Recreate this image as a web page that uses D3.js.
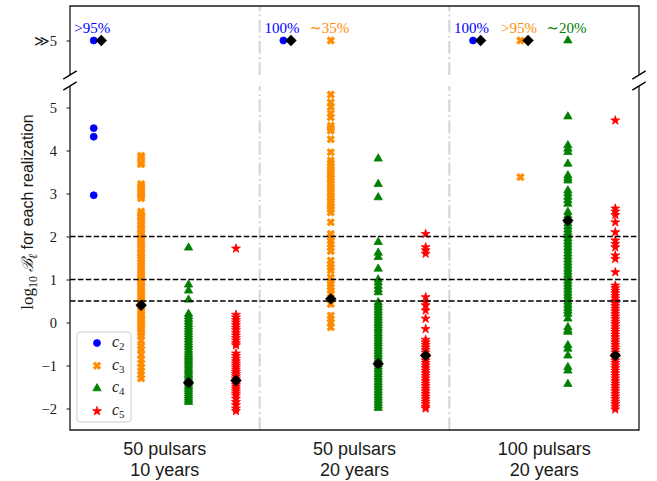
<!DOCTYPE html>
<html>
<head>
<meta charset="utf-8">
<script src="https://cdn.jsdelivr.net/npm/d3@7"></script>
<style>
  body { margin: 0; background: #fff; }
  svg { display: block; }
</style>
</head>
<body>
<script>
// Array configurations along the x axis
const groupLines = [["50 pulsars", "10 years"], ["50 pulsars", "20 years"], ["100 pulsars", "20 years"]];
const seriesNames = ["2", "3", "4", "5"];          // subscripts of c_l
const seriesColors = ["#0000ff", "#ff8c00", "#008000", "#ff0000"];
const yTicks = [-2, -1, 0, 1, 2, 3, 4, 5];
const farTick = "≫5";
const thresholds = [0.5, 1, 2];

// log10 Bayes factor of each realization that stays below the axis break, per array configuration
const c2Vals = [[4.52, 4.32, 2.96], [], []];
const c3Vals = [
  [3.88, 3.84, 3.72, 3.68, 3.22, 3.17, 3.12, 3.06, 3.0, 2.94, 2.89, 2.58, 2.53, 2.47, 2.41, 2.35, 2.28, 2.22, 2.16, 2.1,
   2.04, 1.98, 1.92, 1.85, 1.79, 1.72, 1.66, 1.6, 1.53, 1.47, 1.4, 1.34, 1.27, 1.2, 1.14, 1.08, 1.02, 0.96, 0.9, 0.84,
   0.78, 0.72, 0.66, 0.6, 0.54, 0.48, 0.43, 0.37, 0.31, 0.25, 0.19, 0.13, 0.07, 0.01, -0.05, -0.11, -0.17, -0.24, -0.3,
   -0.42, -0.55, -0.62, -0.75, -0.86, -0.95, -1.05, -1.13, -1.22, -1.3],
  [5.3, 5.12, 5.01, 4.86, 4.77, 4.58, 4.52, 4.46, 4.26, 3.96, 3.77, 3.7, 3.63, 3.56, 3.5, 3.43, 3.36, 3.3, 3.23, 3.16,
   3.1, 3.03, 2.96, 2.9, 2.83, 2.76, 2.7, 2.63, 2.56, 2.33, 2.06, 1.98, 1.9, 1.82, 1.74, 1.66, 1.44, 1.36, 1.28, 1.21,
   1.05, 0.97, 0.9, 0.82, 0.75, 0.67, 0.43, 0.16, 0.08, 0.0, -0.11],
  [3.38]
];
const c4Vals = [
  [1.74, 0.88, 0.74, 0.53, 0.2, 0.14, 0.08, 0.02, -0.04, -0.1, -0.16, -0.22, -0.28, -0.34, -0.4, -0.46, -0.52, -0.58,
   -0.64, -0.7, -0.75, -0.8, -0.85, -0.9, -0.95, -1.0, -1.05, -1.1, -1.15, -1.2, -1.25, -1.3, -1.35, -1.4, -1.45, -1.5,
   -1.55, -1.6, -1.65, -1.7, -1.75, -1.8, -1.85],
  [3.81, 3.22, 2.91, 1.87, 1.62, 1.52, 1.25, 1.0, 0.93, 0.85, 0.77, 0.7, 0.47, 0.41, 0.35, 0.29, 0.23, 0.17, 0.11, 0.05,
   -0.01, -0.07, -0.13, -0.19, -0.25, -0.31, -0.37, -0.43, -0.49, -0.55, -0.61, -0.67, -0.73, -0.79, -0.85, -0.91, -0.97,
   -1.03, -1.09, -1.15, -1.21, -1.27, -1.33, -1.39, -1.45, -1.51, -1.57, -1.63, -1.69, -1.75, -1.81, -1.87, -1.93, -1.99],
  [4.79, 4.12, 4.04, 3.96, 3.69, 3.42, 3.36, 3.3, 3.07, 3.0, 2.92, 2.84, 2.76, 2.57, 2.49, 2.37, 2.3, 2.23, 2.16, 2.09,
   2.02, 1.95, 1.88, 1.81, 1.74, 1.67, 1.6, 1.53, 1.46, 1.39, 1.32, 1.25, 1.18, 1.11, 1.04, 0.97, 0.9, 0.83, 0.76, 0.69,
   0.62, 0.55, 0.48, 0.41, 0.34, 0.27, 0.2, 0.09, -0.11, -0.18, -0.22, -0.53, -0.61, -0.77, -1.04, -1.12, -1.43]
];
const c5Vals = [
  [1.72, 0.18, 0.12, 0.06, 0.0, -0.06, -0.12, -0.18, -0.24, -0.3, -0.36, -0.42, -0.48, -0.53, -0.72, -0.78, -0.84, -0.9,
   -0.95, -1.0, -1.05, -1.1, -1.15, -1.2, -1.25, -1.3, -1.35, -1.4, -1.45, -1.5, -1.55, -1.6, -1.65, -1.7, -1.77, -1.85,
   -1.92, -2.0, -2.06],
  [2.06, 1.75, 1.68, 1.6, 0.59, 0.47, 0.4, 0.28, 0.09, -0.15, -0.4, -0.46, -0.52, -0.58, -0.64, -0.7, -0.76, -0.82, -0.88,
   -0.94, -1.0, -1.06, -1.12, -1.18, -1.24, -1.3, -1.36, -1.42, -1.48, -1.54, -1.6, -1.66, -1.72, -1.78, -1.84, -1.9,
   -1.96, -2.0],
  [4.7, 2.65, 2.58, 2.5, 2.33, 2.1, 1.91, 1.83, 1.75, 1.56, 1.48, 1.17, 0.86, 0.8, 0.74, 0.68, 0.62, 0.56, 0.5, 0.44,
   0.38, 0.32, 0.26, 0.2, 0.14, 0.08, 0.02, -0.04, -0.1, -0.16, -0.22, -0.28, -0.34, -0.4, -0.46, -0.52, -0.58, -0.64,
   -0.7, -0.76, -0.82, -0.88, -0.94, -1.0, -1.06, -1.12, -1.18, -1.24, -1.3, -1.36, -1.42, -1.48, -1.54, -1.6, -1.66,
   -1.72, -1.78, -1.84, -1.9, -1.96, -2.02]
];

// Medians per configuration (Infinity = in the ≫5 strip)
const c2Median = [Infinity, Infinity, Infinity];
const c3Median = [0.4, 0.55, Infinity];
const c4Median = [-1.4, -0.96, 2.37];
const c5Median = [-1.35, -0.77, -0.77];

// Share of realizations with log10 B ≫ 5 (null = none)
const c2Share = [">95%", "100%", "100%"];
const c3Share = [null, "∼35%", ">95%"];
const c4Share = [null, null, "∼20%"];
const c5Share = [null, null, null];

const series = seriesNames.map((sub, k) => ({
  sub,
  color: seriesColors[k],
  vals: [c2Vals, c3Vals, c4Vals, c5Vals][k],
  med: [c2Median, c3Median, c4Median, c5Median][k],
  share: [c2Share, c3Share, c4Share, c5Share][k]
}));

const W = 657, H = 481;
const L = 70, R = 639;
const mainTop = 86, mainBot = 430, topTop = 6, topBot = 75;
const serif = "'Liberation Serif', 'DejaVu Serif', serif";
const sans = "'Liberation Sans', Arial, sans-serif";
const ink = "#1a1a1a";

const x = d3.scaleLinear().domain([-0.5, 2.5]).range([L, R]);
const y = d3.scaleLinear().domain([-2.5, 5.5]).range([mainBot, mainTop]);
const yFar = d3.scalePoint().domain([farTick]).range([topBot, topTop]).padding(0.5);
const slot = [-0.375, -0.125, 0.125, 0.375];
const medShift = 0.04;

// marker shapes
const shapes = [
  d3.symbol().type(d3.symbolCircle).size(38)(),
  d3.symbol().type(d3.symbolCross).size(36)(),     // drawn rotated 45° -> filled X
  d3.symbol().type(d3.symbolTriangle).size(30)(),
  d3.symbol().type(d3.symbolStar).size(25)()
];
const rot = [0, 45, 0, 0];
const diamond = "M0,-5.7L5.7,0L0,5.7L-5.7,0Z";

const svg = d3.select("body").append("svg").attr("width", W).attr("height", H);

// separators between configurations (dash-dot)
const seps = [0.5, 1.5];
[[topBot, topTop], [mainBot, mainTop]].forEach(([b, t]) => {
  svg.append("g").selectAll("line").data(seps).join("line")
    .attr("x1", d => x(d)).attr("x2", d => x(d))
    .attr("y1", b).attr("y2", t)
    .attr("stroke", "#d3d3d3").attr("stroke-width", 2)
    .attr("stroke-dasharray", "12.8,3.2,2,3.2");
});

function drawMarker(g, k, px, py) {
  g.append("path").attr("d", shapes[k])
    .attr("transform", `translate(${px},${py}) rotate(${rot[k]})`)
    .attr("fill", series[k].color).attr("stroke", series[k].color).attr("stroke-width", 0.8);
}

// realizations in the main panel
const pts = svg.append("g");
series.forEach((s, k) => {
  s.vals.forEach((arr, gi) => {
    arr.forEach(v => drawMarker(pts, k, x(gi + slot[k]), y(v)));
  });
});

// Bayes-factor thresholds
svg.append("g").selectAll("line").data(thresholds).join("line")
  .attr("x1", L).attr("x2", R)
  .attr("y1", d => y(d)).attr("y2", d => y(d))
  .attr("stroke", "#000").attr("stroke-width", 1.5)
  .attr("stroke-dasharray", "5.5,2.4");

// ≫5 strip: markers, shares
const far = svg.append("g");
series.forEach((s, k) => {
  s.share.forEach((lab, gi) => {
    if (lab === null) return;
    const cx = x(gi + slot[k]);
    drawMarker(far, k, cx, yFar(farTick));
    far.append("text").attr("x", cx - 1.5).attr("y", 33)
      .attr("text-anchor", "middle").attr("font-family", serif).attr("font-size", 15)
      .attr("fill", s.color).text(lab);
  });
});

// medians
const meds = svg.append("g");
series.forEach((s, k) => {
  s.med.forEach((m, gi) => {
    const top = !isFinite(m);
    const px = x(gi + slot[k] + (top ? medShift : 0));
    const py = top ? yFar(farTick) : y(m);
    meds.append("path").attr("d", diamond)
      .attr("transform", `translate(${px},${py})`).attr("fill", "#000");
  });
});

// spines
svg.append("path")
  .attr("d", `M${L},${mainTop}V${mainBot}H${R}V${mainTop}`)
  .attr("fill", "none").attr("stroke", ink).attr("stroke-width", 1.3);
svg.append("path")
  .attr("d", `M${L},${topBot}V${topTop}H${R}V${topBot}`)
  .attr("fill", "none").attr("stroke", ink).attr("stroke-width", 1.3);

// break marks
[[L, topBot], [R, topBot], [L, mainTop], [R, mainTop]].forEach(([bx, by]) => {
  svg.append("line").attr("x1", bx - 6.7).attr("y1", by + 4.2).attr("x2", bx + 6.7).attr("y2", by - 4.2)
    .attr("stroke", "#000").attr("stroke-width", 1.4);
});

// y axes
const gy = svg.append("g").attr("transform", `translate(${L},0)`)
  .call(d3.axisLeft(y).tickValues(yTicks).tickSize(3.5).tickPadding(9.5).tickFormat(d3.format("d")));
const gf = svg.append("g").attr("transform", `translate(${L},0)`)
  .call(d3.axisLeft(yFar).tickSize(3.5).tickPadding(9.5));
[gy, gf].forEach(g => {
  g.select(".domain").remove();
  g.selectAll(".tick line").attr("stroke", ink).attr("stroke-width", 1);
  g.selectAll(".tick text").attr("font-family", serif).attr("font-size", 14.5).attr("fill", ink);
});

// configuration labels
const xl = svg.append("g");
groupLines.forEach((lines, gi) => {
  const t = xl.append("text").attr("text-anchor", "middle")
    .attr("font-family", sans).attr("font-size", 18).attr("fill", ink);
  lines.forEach((ln, j) => t.append("tspan").attr("x", x(gi)).attr("y", 455 + j * 20.5).text(ln));
});

// y label
const yl = svg.append("text").attr("transform", "translate(33,212) rotate(-90)")
  .attr("text-anchor", "middle").attr("fill", ink);
yl.append("tspan").attr("font-family", serif).attr("font-size", 17).text("log");
yl.append("tspan").attr("font-family", serif).attr("font-size", 12).attr("dy", 4).text("10");
yl.append("tspan").attr("font-family", "'DejaVu Serif', serif").attr("font-style", "italic").attr("font-size", 16).attr("dy", -4).attr("dx", 4).text("ℬ");
yl.append("tspan").attr("font-family", serif).attr("font-style", "italic").attr("font-size", 12).attr("dy", 4).text("ℓ");
yl.append("tspan").attr("font-family", sans).attr("font-size", 16).attr("dy", -4).text(" for each realization");

// legend
const lg = svg.append("g");
lg.append("rect").attr("x", 77).attr("y", 332).attr("width", 54).attr("height", 90).attr("rx", 3)
  .attr("fill", "#fff").attr("fill-opacity", 0.8).attr("stroke", "#cccccc").attr("stroke-width", 1);
series.forEach((s, k) => {
  const ly = 343 + k * 22.7;
  drawMarker(lg, k, 97, ly);
  const t = lg.append("text").attr("x", 112).attr("y", ly + 4).attr("fill", ink).attr("font-family", serif);
  t.append("tspan").attr("font-style", "italic").attr("font-size", 16).text("c");
  t.append("tspan").attr("font-size", 11).attr("dy", 3).text(s.sub);
});
</script>
</body>
</html>
